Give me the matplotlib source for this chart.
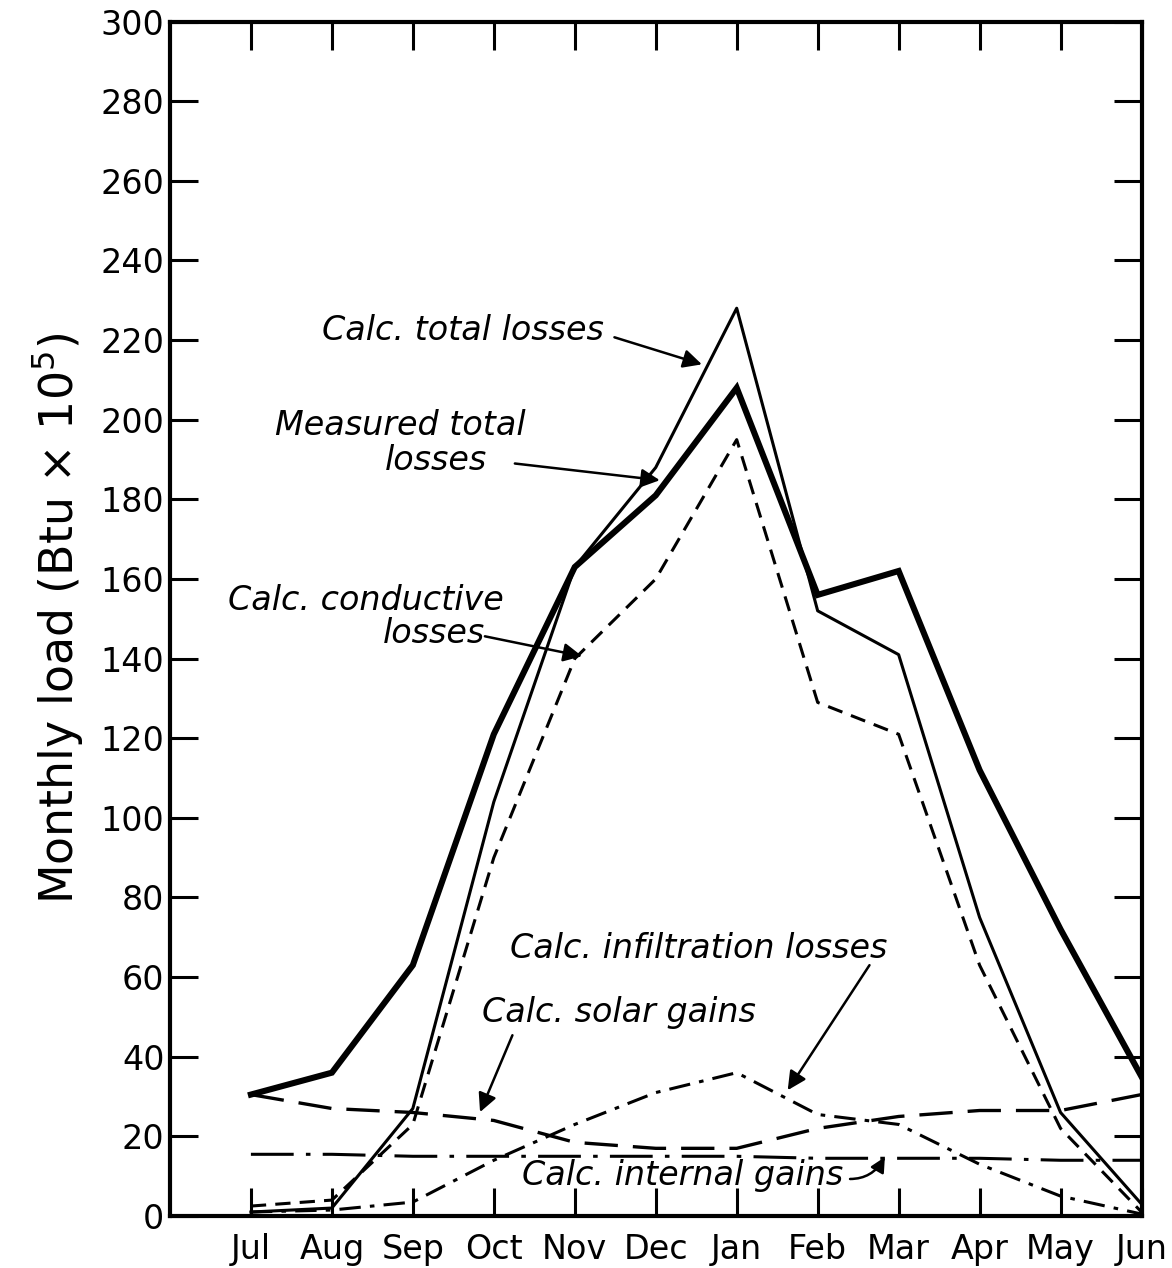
import numpy as np
import matplotlib.pyplot as plt

# Monthly loads (Btu x 10^5)
months = ["Jul", "Aug", "Sep", "Oct", "Nov", "Dec", "Jan", "Feb", "Mar", "Apr", "May", "Jun"]
measured_total = [30.5, 36, 63, 121, 163, 181, 208, 156, 162, 112, 72, 35]
calc_total = [1, 2, 27, 104, 163, 188, 228, 152, 141, 75, 26, 3]
calc_conductive = [2.5, 4, 23, 90, 140, 160, 195, 129, 121, 63, 22, 1]
calc_solar = [30.5, 27, 26, 24, 18.5, 17, 17, 22, 25, 26.5, 26.5, 30.5]
calc_internal = [15.5, 15.5, 15, 15, 15, 15, 15, 14.5, 14.5, 14.5, 14, 14]
calc_infiltration = [1, 1.5, 3.5, 14, 23, 31, 36, 25.5, 23, 13, 5, 0.5]

x = np.arange(len(months))

fig = plt.figure(figsize=(11.72, 12.68), dpi=100)
ax = fig.add_axes([0.145, 0.041, 0.829, 0.942])

ax.plot(x, measured_total, color="black", lw=4.4, solid_joinstyle="miter")
ax.plot(x, calc_total, color="black", lw=2.2)
ax.plot(x, calc_conductive, color="black", lw=2.2, linestyle=(0, (5, 3)))
ax.plot(x, calc_solar, color="black", lw=2.4, linestyle=(0, (10, 4.5)))
ax.plot(x, calc_internal, color="black", lw=2.2, linestyle=(0, (14, 4, 1.5, 4)))
ax.plot(x, calc_infiltration, color="black", lw=2.2, linestyle=(0, (7, 3, 1.5, 3)))

ax.set_xlim(-1, 11)
ax.set_ylim(0, 300)
ax.set_xticks(x)
ax.set_xticklabels(months)
ax.set_yticks(np.arange(0, 301, 20))

for s in ax.spines.values():
    s.set_linewidth(3)
ax.tick_params(axis="both", direction="in", length=20, width=2.2,
               labelsize=24, top=True, right=True)
ax.tick_params(axis="x", pad=12)
ax.tick_params(axis="y", pad=4)

ax.set_ylabel("Monthly load (Btu $\\times$ 10$^5$)", fontsize=33, labelpad=10)

txt = dict(fontsize=24, style="italic", ha="left", va="center")
arrow = dict(arrowstyle="-|>", color="black", lw=1.8, mutation_scale=28, shrinkA=0, shrinkB=0)

ax.text(0.88, 222.4, "Calc. total losses", **txt)
ax.annotate("", xy=(5.57, 213.9), xytext=(4.49, 220.7), arrowprops=arrow)

ax.text(0.30, 198.6, "Measured total", **txt)
ax.text(1.65, 189.8, "losses", **txt)
ax.annotate("", xy=(5.05, 184.8), xytext=(3.26, 189.0), arrowprops=arrow)

ax.text(-0.28, 154.7, "Calc. conductive", **txt)
ax.text(1.63, 146.4, "losses", **txt)
ax.annotate("", xy=(4.09, 140.6), xytext=(2.89, 145.6), arrowprops=arrow)

ax.text(3.2, 67.3, "Calc. infiltration losses", **txt)
ax.annotate("", xy=(6.63, 31.6), xytext=(7.64, 63.0), arrowprops=arrow)

ax.text(2.86, 51.2, "Calc. solar gains", **txt)
ax.annotate("", xy=(2.83, 26.1), xytext=(3.23, 45.4), arrowprops=arrow)

ax.text(3.35, 10.3, "Calc. internal gains", **txt)
ax.annotate("", xy=(7.83, 14.8), xytext=(7.40, 9.3),
            arrowprops=dict(arrow, mutation_scale=22,
                            connectionstyle="angle3,angleA=0,angleB=60"))

fig.savefig("out.png", dpi=100)
